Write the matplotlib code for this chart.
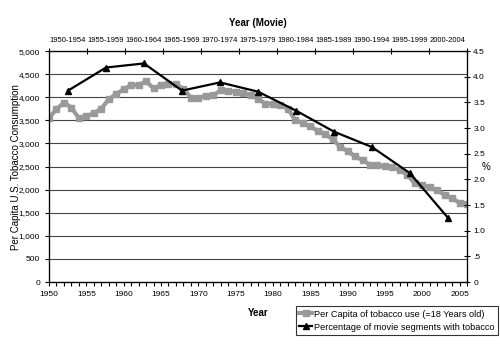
import numpy as np
import matplotlib.pyplot as plt
from matplotlib.ticker import FuncFormatter, MultipleLocator

plt.rcParams['font.family'] = ['Liberation Sans', 'DejaVu Sans']

# per capita consumption, 1950-2006
years = list(range(1950, 2007))
per_capita = [3552, 3744, 3886, 3778, 3546, 3597, 3650, 3755, 3953, 4073,
              4171, 4266, 4265, 4345, 4194, 4258, 4287, 4280, 4186, 3993,
              3985, 4037, 4043, 4148, 4141, 4123, 4092, 4051, 3967, 3861,
              3851, 3840, 3753, 3502, 3446, 3370, 3274, 3197, 3096, 2926,
              2834, 2720, 2641, 2539, 2524, 2505, 2482, 2423, 2320, 2136,
              2092, 2051, 1982, 1890, 1814, 1716, 1691]

# movie segments with tobacco, by 5-year period
periods = ['1950-1954', '1955-1959', '1960-1964', '1965-1969', '1970-1974',
           '1975-1979', '1980-1984', '1985-1989', '1990-1994', '1995-1999',
           '2000-2004']
movie_pct = [3.73, 4.18, 4.26, 3.73, 3.89, 3.71, 3.34, 2.93, 2.63, 2.12, 1.25]


def pct_fmt(v, p):
    if v == 0:
        return '0'
    if v < 1:
        return f'{v:.1f}'[1:]
    return f'{v:.1f}'


fig = plt.figure(figsize=(5, 3.55), dpi=100)
ax = fig.add_axes([0.098, 0.2056, 0.836, 0.6504])

l1, = ax.plot(years, per_capita, color='#999999', lw=3, marker='s', ms=4.8,
              label='Per Capita of tobacco use (=18 Years old)')
ax.set_xlim(1950, 2006)
ax.set_ylim(0, 5000)
ax.yaxis.set_major_locator(MultipleLocator(500))
ax.yaxis.set_major_formatter(FuncFormatter(lambda v, p: f'{int(v):,}'))
ax.xaxis.set_major_locator(MultipleLocator(5))
ax.xaxis.set_minor_locator(MultipleLocator(1))
ax.tick_params(labelsize=6, length=3, width=0.8, color='black')
ax.tick_params(which='minor', length=3, width=0.8)
ax.yaxis.grid(True, color='#444444', lw=0.8)
ax.set_axisbelow(True)
ax.set_xlabel('Year', fontsize=7, fontweight='bold', labelpad=7)
ax.set_ylabel('Per Capita U.S. Tobacco Consumption', fontsize=7)
ax.yaxis.set_label_coords(-0.068, 0.5)

# top category axis for movie periods
ax_top = ax.twiny()
ax_top.set_xlim(0, len(periods))
ax_top.set_xticks(np.arange(len(periods) + 1))
ax_top.set_xticklabels([])
ax_top.set_xticks(np.arange(len(periods)) + 0.5, minor=True)
ax_top.set_xticklabels(periods, minor=True, fontsize=5.5)
ax_top.tick_params(which='major', direction='inout', length=5, width=0.8)
ax_top.tick_params(which='minor', length=0, pad=5)
ax_top.set_xlabel('Year (Movie)', fontsize=7, fontweight='bold', labelpad=8)

ax_r = ax_top.twinx()
l2, = ax_r.plot(np.arange(len(periods)) + 0.5, movie_pct, color='black', lw=1.6,
                marker='^', ms=5, label='Percentage of movie segments with tobacco')
ax_r.set_ylim(0, 4.5)
ax_r.yaxis.set_major_locator(MultipleLocator(0.5))
ax_r.yaxis.set_major_formatter(FuncFormatter(pct_fmt))
ax_r.tick_params(labelsize=6, length=5, width=0.8, direction='inout', pad=2)
ax_r.set_ylabel('%', fontsize=7, rotation=0, va='center')
ax_r.yaxis.set_label_coords(1.046, 0.5)

for a in (ax, ax_top, ax_r):
    for s in a.spines.values():
        s.set_linewidth(0.8)

leg = fig.legend(handles=[l1, l2], loc='upper left', bbox_to_anchor=(0.592, 0.137),
                 fontsize=6.6, frameon=True, fancybox=False, edgecolor='black',
                 handlelength=1.4, handletextpad=0.2, borderpad=0.35, labelspacing=0.45,
                 borderaxespad=0)
leg.get_frame().set_linewidth(0.8)

fig.savefig('out.png', dpi=100)
